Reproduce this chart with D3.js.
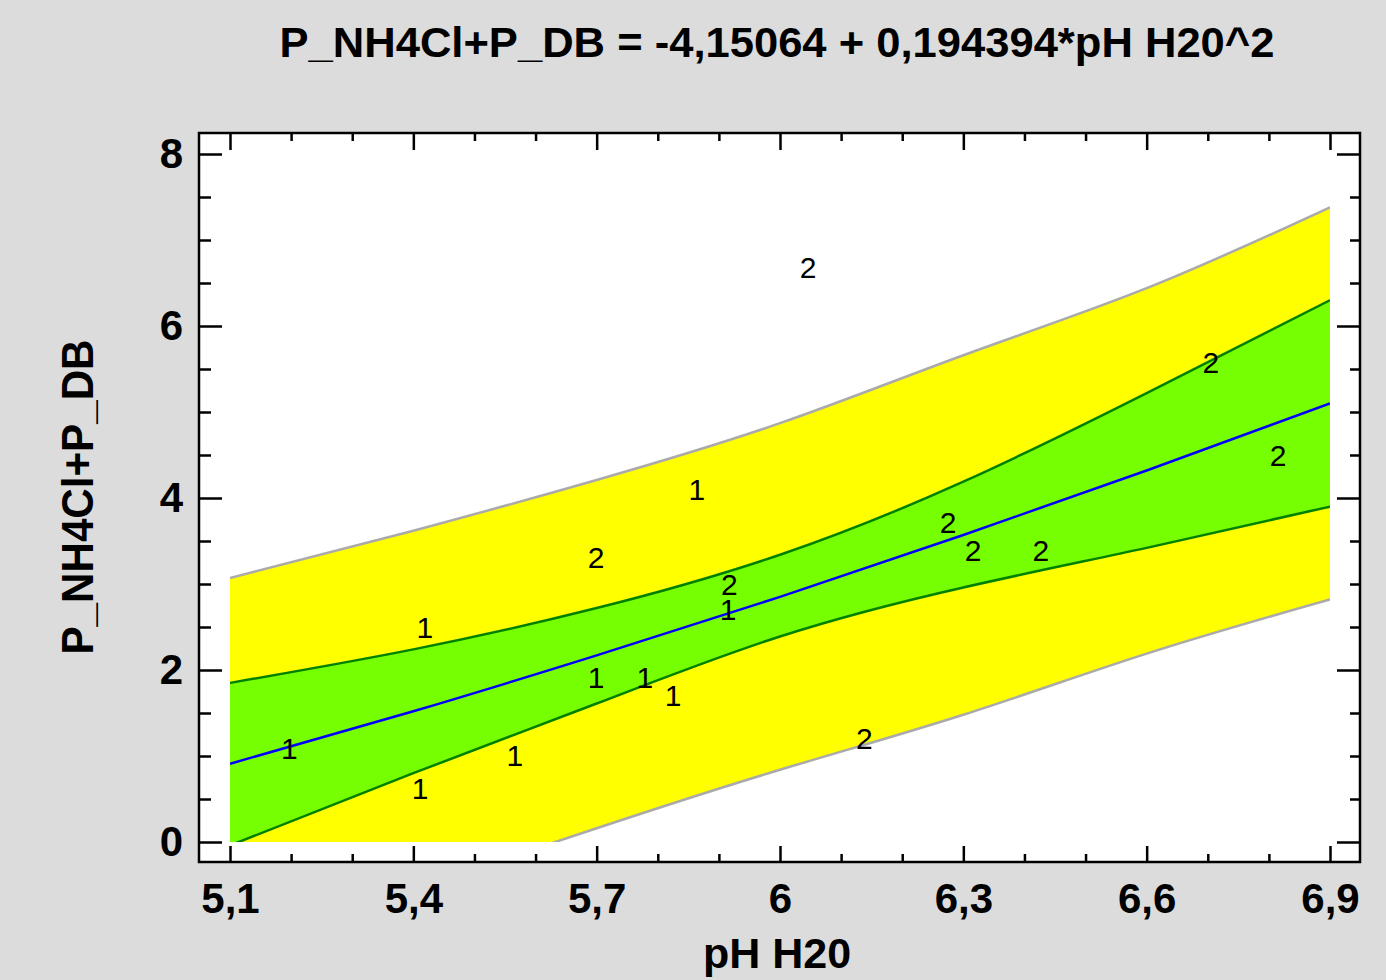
<!DOCTYPE html>
<html>
<head>
<meta charset="utf-8">
<script src="https://cdn.jsdelivr.net/npm/d3@7"></script>
<style>
    body { margin: 0; background: #dcdcdc; }
    text { font-family: "Liberation Sans", Arial, sans-serif; }
</style>
</head>
<body>
<div id="chart"></div>
<script>
// band curves read at x = 5,1 ... 6,9
var bandX = [5.1, 5.4, 5.7, 6.0, 6.3, 6.6, 6.9];
var fitY = [0.91, 1.52, 2.17, 2.85, 3.57, 4.32, 5.10];
var confLow = [-0.04, 0.80, 1.61, 2.39, 2.96, 3.42, 3.90];
var confHigh = [1.85, 2.24, 2.72, 3.34, 4.19, 5.22, 6.30];
var predLow = [-1.25, -0.55, 0.16, 0.84, 1.48, 2.19, 2.82];
var predHigh = [3.07, 3.62, 4.21, 4.87, 5.66, 6.44, 7.38];

// observations, labelled by group code
var pointX = [5.197, 5.411, 5.419, 5.566, 5.699, 5.699, 5.779, 5.825, 5.864, 5.915,
    5.917, 6.046, 6.138, 6.275, 6.316, 6.427, 6.705, 6.815];
var pointY = [1.09, 0.62, 2.49, 1.01, 1.91, 3.31, 1.91, 1.70, 4.10, 2.70,
    3.00, 6.68, 1.20, 3.72, 3.39, 3.39, 5.58, 4.50];
var pointCode = ["1", "1", "1", "1", "1", "2", "1", "1", "1", "1",
    "2", "2", "2", "2", "2", "2", "2", "2"];

var xMajor = [5.1, 5.4, 5.7, 6.0, 6.3, 6.6, 6.9];
var xMinor = [5.2, 5.3, 5.5, 5.6, 5.8, 5.9, 6.1, 6.2, 6.4, 6.5, 6.7, 6.8];
var yMajor = [0, 2, 4, 6, 8];
var yMinor = [0.5, 1, 1.5, 2.5, 3, 3.5, 4.5, 5, 5.5, 6.5, 7, 7.5];

var titleText = "P_NH4Cl+P_DB = -4,15064 + 0,194394*pH H20^2";
var xLabel = "pH H20";
var yLabel = "P_NH4Cl+P_DB";

var W = 1386, H = 980;
var frame = {left: 199, right: 1360, top: 133, bottom: 862};

var x = d3.scaleLinear().domain([5.1, 6.9]).range([230, 1330]);
var y = d3.scaleLinear().domain([0, 8]).range([842, 154]);

var locale = d3.formatLocale({decimal: ",", thousands: ".", grouping: [3], currency: ["", ""]});
var fmt = function (d) { return locale.format("~g")(d); };

var svg = d3.select("#chart").append("svg")
    .attr("width", W)
    .attr("height", H);

svg.append("rect")
    .attr("width", W).attr("height", H)
    .attr("fill", "#dcdcdc");

svg.append("rect")
    .attr("x", frame.left).attr("y", frame.top)
    .attr("width", frame.right - frame.left)
    .attr("height", frame.bottom - frame.top)
    .attr("fill", "#ffffff");

svg.append("clipPath").attr("id", "clip")
    .append("rect")
    .attr("x", x(5.1)).attr("y", frame.top)
    .attr("width", x(6.9) - x(5.1))
    .attr("height", y(0) - frame.top);

var rows = bandX.map(function (v, i) {
    return {x: v, fit: fitY[i], cl: confLow[i], ch: confHigh[i], pl: predLow[i], ph: predHigh[i]};
});

var plot = svg.append("g").attr("clip-path", "url(#clip)");
var curve = d3.curveNatural;

function band(lo, hi) {
    return d3.area().curve(curve)
        .x(function (d) { return x(d.x); })
        .y0(function (d) { return y(d[lo]); })
        .y1(function (d) { return y(d[hi]); });
}
function edge(key) {
    return d3.line().curve(curve)
        .x(function (d) { return x(d.x); })
        .y(function (d) { return y(d[key]); });
}

plot.append("path").datum(rows).attr("d", band("pl", "ph")).attr("fill", "#ffff00");
plot.append("path").datum(rows).attr("d", band("cl", "ch")).attr("fill", "#76ff00");

["pl", "ph"].forEach(function (k) {
    plot.append("path").datum(rows).attr("d", edge(k))
        .attr("fill", "none").attr("stroke", "#aaaaaa").attr("stroke-width", 2.5);
});
["cl", "ch"].forEach(function (k) {
    plot.append("path").datum(rows).attr("d", edge(k))
        .attr("fill", "none").attr("stroke", "#008000").attr("stroke-width", 2.5);
});
plot.append("path").datum(rows).attr("d", edge("fit"))
    .attr("fill", "none").attr("stroke", "#0000ff").attr("stroke-width", 2.5);

svg.append("g").selectAll("text")
    .data(pointX)
    .enter().append("text")
    .attr("x", function (d) { return x(d); })
    .attr("y", function (d, i) { return y(pointY[i]); })
    .attr("dy", "0.35em")
    .attr("text-anchor", "middle")
    .style("font-size", "30px")
    .style("fill", "#000")
    .text(function (d, i) { return pointCode[i]; });

// frame
svg.append("rect")
    .attr("x", frame.left).attr("y", frame.top)
    .attr("width", frame.right - frame.left)
    .attr("height", frame.bottom - frame.top)
    .attr("fill", "none").attr("stroke", "#000").attr("stroke-width", 2.5);

// axes with inward ticks
function styleAxis(g) {
    g.select(".domain").remove();
    g.selectAll(".tick line").attr("stroke", "#000").attr("stroke-width", 2.5);
    g.selectAll(".tick text").style("font-size", "42px").style("font-weight", "bold").attr("fill", "#000");
}

svg.append("g").attr("transform", "translate(0," + frame.bottom + ")")
    .call(d3.axisBottom(x).tickValues(xMajor).tickSize(-16).tickPadding(21).tickFormat(fmt))
    .call(styleAxis);
svg.append("g").attr("transform", "translate(0," + frame.bottom + ")")
    .call(d3.axisBottom(x).tickValues(xMinor).tickSize(-8).tickFormat(""))
    .call(styleAxis);
svg.append("g").attr("transform", "translate(0," + frame.top + ")")
    .call(d3.axisTop(x).tickValues(xMajor).tickSize(-17).tickFormat(""))
    .call(styleAxis);
svg.append("g").attr("transform", "translate(0," + frame.top + ")")
    .call(d3.axisTop(x).tickValues(xMinor).tickSize(-8).tickFormat(""))
    .call(styleAxis);

svg.append("g").attr("transform", "translate(" + frame.left + ",0)")
    .call(d3.axisLeft(y).tickValues(yMajor).tickSize(-23).tickPadding(16).tickFormat(fmt))
    .call(styleAxis);
svg.append("g").attr("transform", "translate(" + frame.left + ",0)")
    .call(d3.axisLeft(y).tickValues(yMinor).tickSize(-12).tickFormat(""))
    .call(styleAxis);
svg.append("g").attr("transform", "translate(" + frame.right + ",0)")
    .call(d3.axisRight(y).tickValues(yMajor).tickSize(-23).tickFormat(""))
    .call(styleAxis);
svg.append("g").attr("transform", "translate(" + frame.right + ",0)")
    .call(d3.axisRight(y).tickValues(yMinor).tickSize(-10).tickFormat(""))
    .call(styleAxis);

// titles
svg.append("text")
    .attr("x", 777).attr("y", 57)
    .attr("text-anchor", "middle")
    .attr("textLength", 995).attr("lengthAdjust", "spacingAndGlyphs")
    .style("font-size", "43px").style("font-weight", "bold")
    .text(titleText);

svg.append("text")
    .attr("x", 777).attr("y", 968)
    .attr("text-anchor", "middle")
    .style("font-size", "43px").style("font-weight", "bold")
    .text(xLabel);

svg.append("text")
    .attr("transform", "translate(93,497) rotate(-90)")
    .attr("text-anchor", "middle")
    .attr("textLength", 315).attr("lengthAdjust", "spacingAndGlyphs")
    .style("font-size", "45px").style("font-weight", "bold")
    .text(yLabel);
</script>
</body>
</html>
